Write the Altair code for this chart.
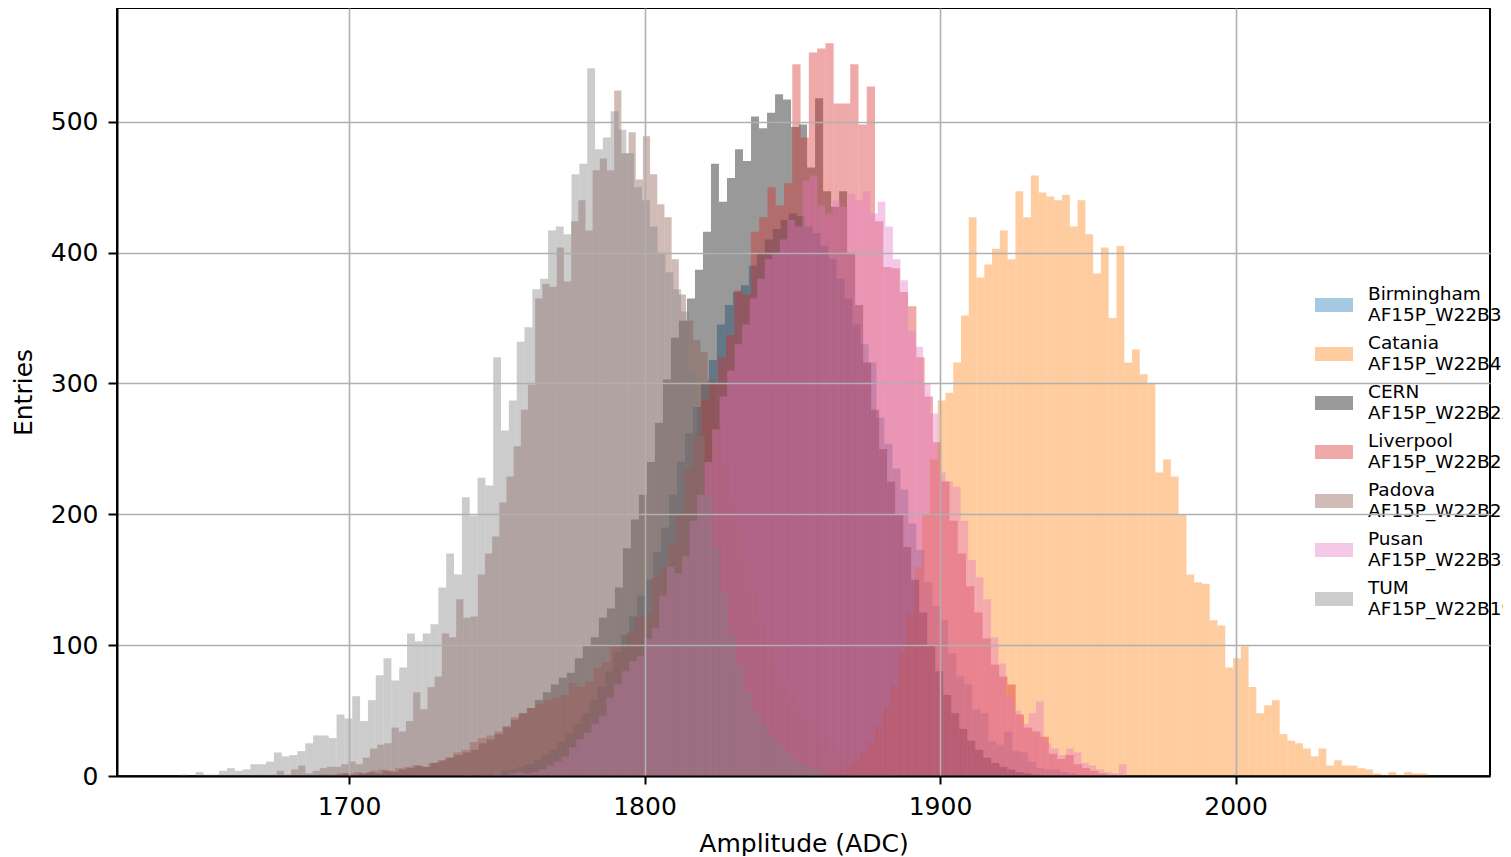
import altair as alt
import pandas as pd

# ---------------- data ----------------
series_names = ["Birmingham|AF15P_W22B3", "Catania|AF15P_W22B4", "CERN|AF15P_W22B22",
                "Liverpool|AF15P_W22B21", "Padova|AF15P_W22B23", "Pusan|AF15P_W22B32",
                "TUM|AF15P_W22B19"]
series_colors = ["#1f77b4", "#ff7f0e", "#000000", "#d62728", "#8c564b", "#e377c2", "#7f7f7f"]

# first bin edge and bin width (ADC) of each histogram
bin_start = [1743.5, 1854.5, 1689.7, 1690.4, 1668.24, 1738.7, 1642.8]
bin_width = [2.70, 2.63, 2.71, 2.80, 2.43, 2.55, 2.65]

birmingham_counts = [1, 2, 2, 4, 5, 7, 9, 12, 16, 20, 26, 33, 40, 48, 58, 68, 80, 95, 108, 122,
                     138, 150, 171, 190, 215, 240, 262, 282, 300, 318, 345, 360, 370, 375, 390,
                     400, 410, 418, 425, 430, 428, 420, 415, 405, 395, 380, 365, 345, 330, 316,
                     274, 254, 235, 219, 193, 173, 148, 130, 119, 94, 76, 70, 51, 48, 27, 24, 34,
                     19, 18, 11, 6, 5, 5, 3, 2]

catania_counts = [1, 1, 2, 3, 5, 8, 12, 18, 26, 38, 52, 70, 95, 125, 160, 200, 242,
                  287, 293, 316, 352, 427, 381, 391, 403, 417, 395, 447, 427, 459, 446, 443,
                  440, 444, 420, 440, 414, 384, 404, 350, 405, 316, 326, 307, 300, 232, 242,
                  229, 200,
                  154, 148, 147, 119, 115, 83, 90, 99, 68, 48, 54, 58, 32, 27, 25, 21, 15, 21,
                  8, 12, 8, 8, 6, 5, 2, 1, 3, 1, 3, 2, 2]

cern_counts = [1, 0, 1, 2, 1, 2, 3, 2, 4, 3, 5, 6, 8, 7, 10, 12, 14, 16, 18, 20,
               25, 28, 32, 38, 43, 48, 52, 58, 64, 70, 75, 79, 90, 100, 106, 121, 128, 144,
               174, 196, 215, 240, 270, 303, 335, 348, 365,
               387, 416, 468, 439, 457, 479, 470, 504, 495, 507, 521, 517, 496, 498, 465, 518,
               447, 435, 447, 400, 360, 316, 280, 250, 225, 200, 175, 150, 125, 100, 80, 62,
               48, 36, 27, 20, 14, 10, 7, 5, 3, 2, 1]

liverpool_counts = [1, 1, 2, 2, 3, 2, 4, 5, 4, 6, 7, 8, 7, 10, 11, 14, 18, 20, 26, 29,
                    31, 34, 37, 45, 48, 52, 55, 58, 60, 62, 71, 68, 72, 83, 87, 99, 100, 110,
                    122, 124, 152, 160, 178, 200, 235, 260, 287, 300, 320, 337,
                    371, 368, 416, 427, 450, 436, 453, 544, 488, 553, 556, 560, 514, 514, 544,
                    498, 527, 424, 389, 388, 370, 359,
                    320, 290, 255, 225, 195, 170, 145, 125, 105, 85, 76, 70, 47, 37, 34, 30, 17,
                    13, 16, 9, 6, 4, 2, 1]

padova_counts = [1, 0, 1, 4, 1, 5, 8, 2, 4, 6, 7, 7, 9, 11, 9, 14, 21, 24, 25, 37, 34, 42,
                 64, 51, 68, 76, 109, 106, 135, 121, 122, 154, 170, 183, 209, 229,
                 252, 280,
                 299, 365, 376, 374, 404, 378, 424, 440, 417, 463, 472, 463, 524, 476, 492,
                 456, 489, 460, 437, 427, 395, 368, 348, 333,
                 324, 303, 270, 240, 210, 190, 165, 140, 118, 100, 85, 72, 60, 52, 46, 40, 33,
                 28, 22, 18, 14, 10, 7, 5, 4, 2, 1]

pusan_counts = [1, 0, 1, 1, 2, 1, 2, 3, 2,
                3, 5, 8, 11, 15, 22, 28, 33, 40, 46, 60, 70, 80, 88, 92, 105, 113, 138, 160,
                155, 168, 195, 215, 240, 265, 290, 310, 330, 345, 365, 380, 395, 400, 410,
                425, 420, 455, 459, 436, 430, 440, 435, 445, 440, 447, 430, 439, 420, 395,
                379, 340, 328, 300, 277, 232, 225, 221, 195, 165, 152, 135, 106, 86, 61, 50,
                40, 48, 57, 25, 21, 16, 21, 18, 10, 8, 5, 3, 2, 9]

tum_counts = [1, 0, 3, 1, 1, 4, 6, 4, 5, 9, 9, 11, 18, 15, 16, 19, 25, 31, 31, 29, 47, 44,
              61, 42, 58, 77, 90, 73, 83, 109, 103, 109, 116, 144, 170, 154, 213, 199, 228,
              222, 320, 264, 287,
              332, 343, 372, 380, 417, 420, 414, 460, 468, 541, 479, 488, 508, 494, 476, 450,
              440, 420, 400, 385, 372, 355, 310, 260, 215, 175, 140, 108, 84, 64, 50, 39, 31,
              24, 18, 13, 9, 6, 4, 2, 1]

all_counts = [birmingham_counts, catania_counts, cern_counts, liverpool_counts,
              padova_counts, pusan_counts, tum_counts]

x_ticks = [1700, 1800, 1900, 2000]
y_ticks = [0, 100, 200, 300, 400, 500]

# ---------------- table for the library ----------------
rows = []
for name, start, width, counts in zip(series_names, bin_start, bin_width, all_counts):
    for i, c in enumerate(counts):
        lo = start + i * width
        rows.append({"series": name, "lo": lo, "hi": lo + width, "count": c, "base": 0})
df = pd.DataFrame(rows)

FONT = "DejaVu Sans"

chart = alt.Chart(df).mark_bar(opacity=0.4, strokeWidth=0).encode(
    x=alt.X("lo:Q",
            scale=alt.Scale(domain=[1621.5, 2086.1], nice=False, zero=False),
            axis=alt.Axis(values=x_ticks, title="Amplitude (ADC)", format="d",
                          tickSize=8, labelPadding=10, titleY=75,
                          titleBaseline="alphabetic", zindex=1)),
    x2="hi:Q",
    y=alt.Y("count:Q", stack=None,
            scale=alt.Scale(domain=[0, 587], nice=False),
            axis=alt.Axis(values=y_ticks, title="Entries", tickSize=9, labelPadding=10,
                          titleX=-94, titleY=384, titleAngle=270, titleAlign="center",
                          titleBaseline="middle", zindex=1)),
    y2="base:Q",
    color=alt.Color("series:N",
                    scale=alt.Scale(domain=series_names, range=series_colors),
                    sort=series_names,
                    legend=alt.Legend(title=None, orient="none", legendX=1198, legendY=278,
                                      labelExpr="split(datum.label, '|')",
                                      labelBaseline="line-bottom",
                                      symbolType="M-1,-0.37L1,-0.37L1,0.37L-1,0.37Z",
                                      symbolSize=1444, symbolOpacity=0.4,
                                      symbolStrokeWidth=0, labelFontSize=18.5,
                                      labelFont=FONT, labelLimit=400, labelOffset=15,
                                      rowPadding=10, padding=0, labelColor="black")),
).properties(
    width=1373, height=768,
    padding={"left": 109, "top": 0, "right": 13, "bottom": 80},
    autosize=alt.AutoSizeParams(type="none"),
).configure_axis(
    labelFont=FONT, titleFont=FONT, labelFontSize=25, titleFontSize=25,
    labelColor="black", titleColor="black", titleFontWeight="normal",
    tickColor="black", tickWidth=2, domainColor="black", domainWidth=2,
    grid=True, gridColor="#b0b0b0", gridWidth=1.6, gridOpacity=1,
).configure_view(
    stroke="black", strokeWidth=2,
)

chart.save("out.html", embed_options={"renderer": "svg", "actions": False})
